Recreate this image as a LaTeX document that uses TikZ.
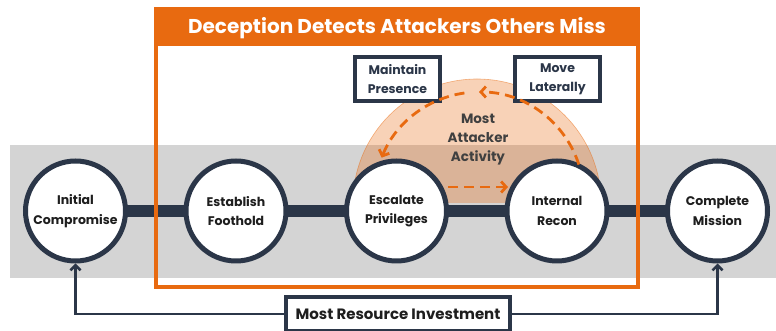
\documentclass[tikz,border=0pt]{standalone}
\usepackage{fontspec}
\setmainfont{Poppins}
\usetikzlibrary{arrows.meta,calc}
\definecolor{navy}{RGB}{43,54,72}
\definecolor{orng}{RGB}{232,106,16}
\definecolor{band}{RGB}{212,212,212}
\definecolor{txt}{RGB}{30,30,30}
\tikzset{
  stage/.style={circle, draw=navy, line width=5pt, fill=white, minimum size=100pt, inner sep=0pt,
    align=center, font=\fontsize{12.5}{19.5}\selectfont\bfseries, text=txt},
  tag/.style={draw=navy, line width=4pt, fill=white, minimum width=85pt, minimum height=44pt, inner sep=0pt,
    align=center, font=\fontsize{12.5}{19}\selectfont\bfseries, text=navy},
  flow/.style={orng, line width=2.8pt, dash pattern=on 10pt off 6pt, -{Straight Barb[length=5pt,width=11pt]}},
  link/.style={navy, line width=2.5pt, -{Straight Barb[length=5pt,width=10pt]}}
}
\begin{document}
\begin{tikzpicture}[x=1pt,y=1pt]
\useasboundingbox (0,0) rectangle (776,331);
% gray band
\fill[band] (10,53) rectangle (776,186);
% peach half disc
\fill[orng, opacity=0.3] (353,128) arc[start angle=180, end angle=0, radius=124] -- cycle;
\draw[orng, opacity=0.5, line width=0.6pt] (353,128) arc[start angle=180, end angle=0, radius=124];
% stages
\coordinate (p1) at (75.5,120);
\coordinate (p5) at (717.5,120);
\draw[navy, line width=12pt] (p1) -- (p5);
\node[stage] (c1) at (75.5,120) {Initial\\Compromise};
\node[stage] (c2) at (236,120) {Establish\\Foothold};
\node[stage] (c3) at (396.5,120) {Escalate\\Privileges};
\node[stage] (c4) at (557,120) {Internal\\Recon};
\node[stage] (c5) at (717.5,120) {Complete\\Mission};
% orange frame and header
\draw[orng, line width=3.5pt] (156,44) rectangle (638,322);
\fill[orng] (156,285) rectangle (638,322);
\node[text=white, font=\fontsize{20}{22}\selectfont\bfseries] (title) at (397,303) {Deception Detects Attackers Others Miss};
% top tags
\node[tag] (mp) at (397.5,252) {Maintain\\Presence};
\node[tag] (ml) at (557.5,252) {Move\\Laterally};
% attacker activity
\node[align=center, text=txt!85!white, font=\fontsize{13.5}{19}\selectfont\bfseries] (act) at (478,191) {Most\\Attacker\\Activity};
\coordinate (a1) at (448,144);
\coordinate (a2) at (508,144);
\coordinate (ctr) at (479,134);
\draw[flow] (a1) -- (a2);
\draw[flow] ($(ctr)+(18:105)$) arc[start angle=18, end angle=90, radius=105];
\draw[flow] ($(ctr)+(98:105)$) arc[start angle=98, end angle=158, radius=105];
% resource investment
\node[draw=navy, line width=4pt, fill=white, minimum width=224pt, minimum height=34pt, inner sep=0pt,
  text=txt, font=\fontsize{15}{17}\selectfont\bfseries] (res) at (398,17) {Most Resource Investment};
\draw[link] (res.west) -| (c1.south);
\draw[link] (res.east) -| (c5.south);
\end{tikzpicture}
\end{document}
